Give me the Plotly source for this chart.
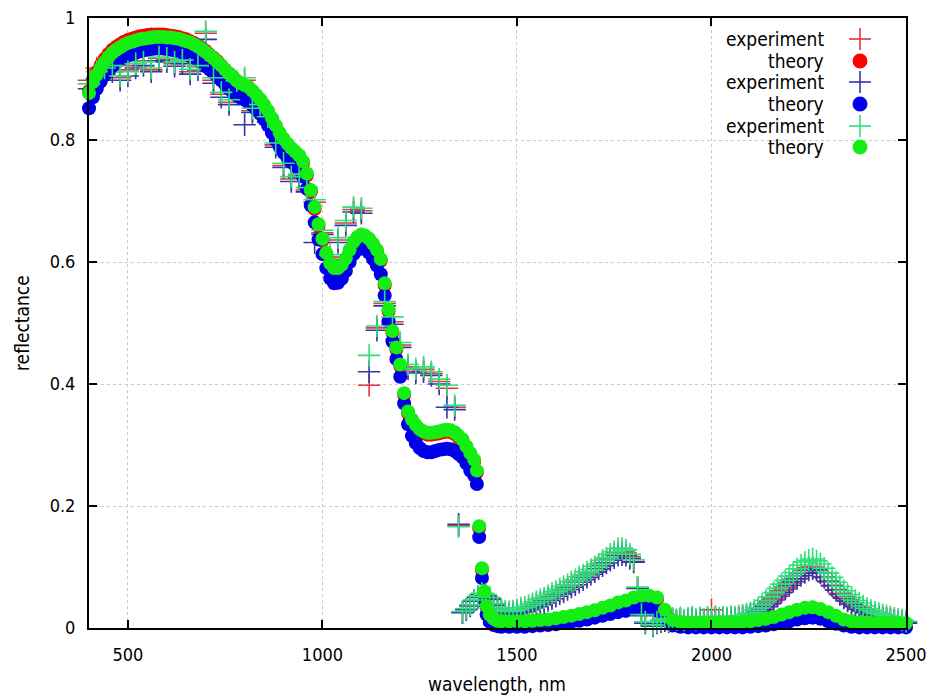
import plotly.graph_objects as go

# ---------------- data ----------------
# theory wavelength grid (nm)
theory_wl = (list(range(400, 1390, 10))
             + [1390, 1397, 1403, 1410, 1416, 1422, 1430, 1440, 1450]
             + list(range(1460, 2501, 20)))

theory_red = [
    0.880, 0.899, 0.912, 0.923, 0.933, 0.941, 0.948, 0.953, 0.957, 0.961,   # 400-490
    0.964, 0.966, 0.968, 0.970, 0.971, 0.972, 0.973, 0.973, 0.973, 0.973,   # 500-590
    0.972, 0.971, 0.970, 0.969, 0.967, 0.965, 0.962, 0.959, 0.955, 0.951,   # 600-690
    0.946, 0.940, 0.935, 0.929, 0.922, 0.915, 0.909, 0.903, 0.897, 0.892,   # 700-790
    0.889, 0.886, 0.880, 0.873, 0.865, 0.856, 0.846, 0.834, 0.822, 0.810,   # 800-890
    0.800, 0.792, 0.785, 0.779, 0.772, 0.762, 0.742, 0.715, 0.687, 0.659,   # 900-990
    0.635, 0.612, 0.595, 0.587, 0.587, 0.593, 0.603, 0.617, 0.630, 0.638,   # 1000-1090
    0.642, 0.640, 0.635, 0.627, 0.617, 0.602, 0.562, 0.519, 0.484, 0.457,   # 1100-1190
    0.429, 0.382, 0.352, 0.339, 0.330, 0.323, 0.319, 0.317, 0.317, 0.318,   # 1200-1290
    0.319, 0.321, 0.322, 0.321, 0.318, 0.312, 0.306, 0.295, 0.284,          # 1300-1380
    0.273, 0.255, 0.164, 0.095, 0.057, 0.033, 0.019, 0.012, 0.009,          # 1390-1450
    0.008, 0.008, 0.008, 0.008, 0.009, 0.010, 0.011, 0.013, 0.015, 0.017,   # 1460-1640
    0.020, 0.023, 0.026, 0.030, 0.034, 0.039, 0.042, 0.047, 0.050, 0.050,   # 1660-1840
    0.047, 0.027, 0.010, 0.007, 0.006, 0.006, 0.006, 0.006, 0.006, 0.006,   # 1860-2040
    0.006, 0.007, 0.008, 0.010, 0.012, 0.015, 0.019, 0.023, 0.027, 0.030,   # 2060-2240
    0.031, 0.028, 0.023, 0.017, 0.011, 0.008, 0.006, 0.006, 0.005, 0.005,   # 2260-2440
    0.005, 0.005, 0.005,                                                    # 2460-2500
]

theory_blue = [
    0.852, 0.870, 0.884, 0.896, 0.906, 0.914, 0.921, 0.927, 0.931, 0.935,
    0.938, 0.941, 0.943, 0.945, 0.947, 0.948, 0.949, 0.950, 0.950, 0.950,
    0.949, 0.948, 0.947, 0.945, 0.943, 0.941, 0.938, 0.935, 0.931, 0.926,
    0.921, 0.916, 0.910, 0.904, 0.898, 0.891, 0.884, 0.878, 0.873, 0.869,
    0.866, 0.862, 0.857, 0.850, 0.843, 0.834, 0.824, 0.812, 0.800, 0.789,
    0.779, 0.771, 0.764, 0.758, 0.751, 0.740, 0.720, 0.693, 0.665, 0.637,
    0.613, 0.590, 0.573, 0.565, 0.566, 0.573, 0.585, 0.600, 0.613, 0.620,
    0.623, 0.621, 0.615, 0.605, 0.594, 0.580, 0.545, 0.503, 0.470, 0.441,
    0.412, 0.368, 0.334, 0.315, 0.303, 0.295, 0.290, 0.288, 0.288, 0.290,
    0.292, 0.293, 0.294, 0.293, 0.290, 0.285, 0.280, 0.270, 0.258,
    0.250, 0.236, 0.149, 0.082, 0.045, 0.022, 0.010, 0.005, 0.003,
    0.002, 0.002, 0.002, 0.002, 0.003, 0.004, 0.005, 0.006, 0.008, 0.010,
    0.012, 0.014, 0.017, 0.020, 0.023, 0.026, 0.028, 0.031, 0.033, 0.032,
    0.028, 0.015, 0.004, 0.002, 0.001, 0.001, 0.001, 0.001, 0.001, 0.001,
    0.001, 0.001, 0.002, 0.003, 0.004, 0.006, 0.008, 0.011, 0.014, 0.016,
    0.017, 0.015, 0.011, 0.007, 0.004, 0.002, 0.001, 0.001, 0.001, 0.001,
    0.001, 0.001, 0.001,
]

theory_green = [
    0.877, 0.895, 0.907, 0.918, 0.928, 0.936, 0.943, 0.948, 0.952, 0.956,
    0.959, 0.961, 0.963, 0.965, 0.966, 0.967, 0.968, 0.969, 0.969, 0.969,
    0.968, 0.968, 0.967, 0.966, 0.964, 0.962, 0.960, 0.957, 0.953, 0.949,
    0.944, 0.939, 0.934, 0.928, 0.922, 0.915, 0.909, 0.903, 0.897, 0.893,
    0.890, 0.887, 0.881, 0.874, 0.867, 0.858, 0.848, 0.836, 0.824, 0.812,
    0.802, 0.794, 0.787, 0.781, 0.775, 0.765, 0.745, 0.718, 0.690, 0.662,
    0.638, 0.615, 0.598, 0.590, 0.590, 0.596, 0.606, 0.620, 0.633, 0.641,
    0.645, 0.643, 0.638, 0.630, 0.620, 0.605, 0.565, 0.522, 0.487, 0.460,
    0.432, 0.385, 0.355, 0.342, 0.333, 0.326, 0.322, 0.320, 0.320, 0.321,
    0.322, 0.324, 0.325, 0.324, 0.321, 0.315, 0.309, 0.298, 0.287,
    0.276, 0.258, 0.167, 0.098, 0.060, 0.036, 0.022, 0.015, 0.012,
    0.011, 0.011, 0.011, 0.011, 0.012, 0.013, 0.014, 0.016, 0.018, 0.020,
    0.023, 0.026, 0.029, 0.033, 0.037, 0.042, 0.045, 0.050, 0.053, 0.053,
    0.050, 0.030, 0.013, 0.010, 0.009, 0.009, 0.009, 0.009, 0.009, 0.009,
    0.009, 0.010, 0.011, 0.013, 0.015, 0.018, 0.022, 0.026, 0.030, 0.033,
    0.034, 0.031, 0.026, 0.020, 0.014, 0.011, 0.009, 0.009, 0.008, 0.008,
    0.008, 0.008, 0.008,
]

# experiment wavelength grid (nm)
exp_wl = list(range(400, 1341, 20)) + list(range(1350, 2501, 10))

exp_red = [
    0.898, 0.918, 0.915, 0.925, 0.902, 0.915, 0.922, 0.930, 0.915, 0.934,   # 400-580
    0.932, 0.925, 0.928, 0.912, 0.920, 0.975, 0.898, 0.875, 0.862, 0.892,   # 600-780
    0.898, 0.848, 0.855, 0.835, 0.792, 0.758, 0.736, 0.741, 0.718, 0.698,   # 800-980
    0.648, 0.608, 0.636, 0.664, 0.686, 0.684, 0.398, 0.492, 0.532, 0.502,   # 1000-1180
    0.464, 0.428, 0.421, 0.424, 0.417, 0.404, 0.393, 0.362,                 # 1200-1340
    0.168, 0.026, 0.031, 0.037, 0.045, 0.051, 0.056, 0.053, 0.048, 0.038,   # 1350-1440
    0.032, 0.028, 0.025, 0.024, 0.025, 0.027, 0.029, 0.030, 0.033, 0.036,   # 1450-1540
    0.039, 0.042, 0.045, 0.049, 0.052, 0.056, 0.060, 0.063, 0.067, 0.071,   # 1550-1640
    0.075, 0.079, 0.083, 0.087, 0.092, 0.096, 0.101, 0.106, 0.111, 0.115,   # 1650-1740
    0.120, 0.124, 0.125, 0.123, 0.117, 0.109, 0.066, 0.021, 0.009, -0.007,  # 1750-1840
    0.004, 0.009, 0.011, 0.013, 0.011, 0.014, 0.012, 0.015, 0.011, 0.014,   # 1850-1940
    0.016, 0.012, 0.015, 0.013, 0.016, 0.030, 0.017, 0.014, 0.016, 0.015,   # 1950-2040
    0.017, 0.016, 0.018, 0.019, 0.020, 0.022, 0.025, 0.029, 0.033, 0.038,   # 2050-2140
    0.043, 0.049, 0.055, 0.061, 0.067, 0.074, 0.080, 0.085, 0.090, 0.095,   # 2150-2240
    0.099, 0.100, 0.097, 0.091, 0.084, 0.077, 0.070, 0.063, 0.057, 0.051,   # 2250-2340
    0.046, 0.041, 0.037, 0.033, 0.030, 0.027, 0.024, 0.022, 0.020, 0.018,   # 2350-2440
    0.016, 0.015, 0.013, 0.012, 0.011, 0.009,                               # 2450-2500
]

exp_blue = [
    0.884, 0.900, 0.908, 0.912, 0.898, 0.905, 0.918, 0.922, 0.912, 0.930,
    0.928, 0.921, 0.925, 0.908, 0.915, 0.965, 0.893, 0.870, 0.858, 0.888,
    0.825, 0.845, 0.850, 0.830, 0.788, 0.755, 0.732, 0.738, 0.715, 0.632,
    0.645, 0.604, 0.632, 0.660, 0.682, 0.680, 0.420, 0.488, 0.528, 0.498,
    0.460, 0.425, 0.418, 0.420, 0.414, 0.400, 0.362, 0.358,
    0.170, 0.025, 0.030, 0.036, 0.044, 0.050, 0.055, 0.052, 0.047, 0.037,
    0.030, 0.026, 0.023, 0.022, 0.022, 0.024, 0.026, 0.027, 0.030, 0.033,
    0.035, 0.038, 0.041, 0.045, 0.048, 0.052, 0.056, 0.059, 0.063, 0.067,
    0.071, 0.075, 0.079, 0.083, 0.088, 0.092, 0.097, 0.102, 0.107, 0.111,
    0.115, 0.119, 0.120, 0.119, 0.114, 0.108, 0.065, 0.020, 0.008, -0.008,
    0.003, 0.008, 0.010, 0.012, 0.010, 0.013, 0.011, 0.014, 0.010, 0.013,
    0.015, 0.011, 0.014, 0.012, 0.015, 0.013, 0.016, 0.013, 0.015, 0.014,
    0.016, 0.015, 0.016, 0.017, 0.018, 0.020, 0.023, 0.026, 0.030, 0.035,
    0.040, 0.046, 0.052, 0.058, 0.064, 0.070, 0.076, 0.081, 0.086, 0.091,
    0.095, 0.097, 0.095, 0.090, 0.083, 0.076, 0.069, 0.062, 0.055, 0.049,
    0.044, 0.039, 0.035, 0.031, 0.028, 0.025, 0.022, 0.020, 0.018, 0.016,
    0.015, 0.013, 0.012, 0.011, 0.010, 0.008,
]

exp_green = [
    0.892, 0.912, 0.918, 0.922, 0.905, 0.912, 0.925, 0.928, 0.918, 0.936,
    0.934, 0.928, 0.931, 0.916, 0.922, 0.978, 0.902, 0.878, 0.866, 0.897,
    0.902, 0.852, 0.858, 0.838, 0.795, 0.762, 0.740, 0.744, 0.722, 0.702,
    0.652, 0.612, 0.640, 0.668, 0.690, 0.688, 0.447, 0.495, 0.535, 0.510,
    0.468, 0.432, 0.425, 0.428, 0.420, 0.408, 0.398, 0.365,
    0.166, 0.027, 0.032, 0.038, 0.046, 0.052, 0.057, 0.055, 0.050, 0.040,
    0.034, 0.031, 0.028, 0.027, 0.028, 0.030, 0.033, 0.034, 0.037, 0.040,
    0.043, 0.047, 0.049, 0.053, 0.057, 0.060, 0.064, 0.068, 0.071, 0.076,
    0.079, 0.084, 0.087, 0.092, 0.096, 0.101, 0.105, 0.111, 0.115, 0.121,
    0.125, 0.130, 0.131, 0.128, 0.121, 0.112, 0.067, 0.022, 0.010, -0.006,
    0.005, 0.010, 0.013, 0.015, 0.012, 0.016, 0.014, 0.017, 0.013, 0.016,
    0.018, 0.014, 0.017, 0.015, 0.018, 0.016, 0.019, 0.016, 0.018, 0.017,
    0.019, 0.018, 0.020, 0.021, 0.023, 0.025, 0.029, 0.033, 0.039, 0.045,
    0.051, 0.058, 0.065, 0.072, 0.078, 0.085, 0.091, 0.097, 0.103, 0.108,
    0.111, 0.113, 0.110, 0.105, 0.098, 0.090, 0.083, 0.075, 0.068, 0.061,
    0.055, 0.050, 0.045, 0.041, 0.036, 0.032, 0.029, 0.026, 0.024, 0.022,
    0.020, 0.018, 0.016, 0.015, 0.013, 0.011,
]

for arr in (theory_red, theory_blue, theory_green):
    assert len(arr) == len(theory_wl), (len(arr), len(theory_wl))
for arr in (exp_red, exp_blue, exp_green):
    assert len(arr) == len(exp_wl), (len(arr), len(exp_wl))

series_names = ["experiment", "theory", "experiment", "theory", "experiment", "theory"]
exp_colors = ["rgb(232,52,60)", "rgb(52,52,172)", "rgb(44,226,120)"]
theory_colors = ["rgb(255,0,0)", "rgb(0,0,232)", "rgb(20,238,20)"]
x_ticks = [500, 1000, 1500, 2000, 2500]
y_ticks = [0, 0.2, 0.4, 0.6, 0.8, 1]

# ---------------- figure ----------------
FONT = "DejaVu Sans Condensed, DejaVu Sans, sans-serif"
W, H = 933, 696
ML, MR, MT, MB = 89, 27, 18, 68
PW, PH = W - ML - MR, H - MT - MB

fig = go.Figure()

pairs = [(exp_red, theory_red), (exp_blue, theory_blue), (exp_green, theory_green)]
for i, (ev, tv) in enumerate(pairs):
    fig.add_trace(go.Scatter(
        x=exp_wl, y=ev, mode="markers", name="experiment", cliponaxis=False,
        marker=dict(symbol="cross-thin", size=16, color=exp_colors[i],
                    line=dict(color=exp_colors[i], width=1.6)),
    ))
    fig.add_trace(go.Scatter(
        x=theory_wl, y=tv, mode="markers", name="theory", cliponaxis=False,
        marker=dict(symbol="circle", size=14, color=theory_colors[i],
                    line=dict(width=0)),
    ))

axis_common = dict(
    showline=True, linecolor="black", linewidth=2, mirror="ticks",
    ticks="inside", ticklen=8, tickwidth=1.5, tickcolor="black",
    showgrid=True, gridcolor="#c8c8c8", gridwidth=1, griddash="dot",
    zeroline=False, automargin=False,
    tickfont=dict(family=FONT, size=18, color="black"),
)
fig.update_xaxes(range=[400, 2500], tickvals=x_ticks, ticklabelstandoff=9, **axis_common)
fig.update_yaxes(range=[0, 1], tickvals=y_ticks, ticklabelstandoff=8, **axis_common)


def px_to_paper_x(px):
    return (px - ML) / PW


def px_to_paper_y(py):
    return 1 - (py - MT) / PH


annotations = [
    dict(text="wavelength, nm", x=px_to_paper_x(497), y=px_to_paper_y(684),
         xref="paper", yref="paper", showarrow=False, xanchor="center", yanchor="middle",
         font=dict(family=FONT, size=19, color="black")),
    dict(text="reflectance", x=px_to_paper_x(22), y=px_to_paper_y(323),
         xref="paper", yref="paper", showarrow=False, xanchor="center", yanchor="middle",
         textangle=-90, font=dict(family=FONT, size=19, color="black")),
]

# custom key (text left of symbol, as in the original)
KEY_TEXT_RIGHT = 826
KEY_SYM_X = 860
KEY_ROWS = [39, 61, 82, 104, 126, 147]
shapes = []
for k, name in enumerate(series_names):
    row_y = KEY_ROWS[k]
    annotations.append(dict(
        text=name, x=px_to_paper_x(KEY_TEXT_RIGHT), y=px_to_paper_y(row_y),
        xref="paper", yref="paper", showarrow=False, xanchor="right", yanchor="middle",
        font=dict(family=FONT, size=19, color="black")))
    c = k // 2
    sx, sy = px_to_paper_x(KEY_SYM_X), px_to_paper_y(row_y)
    if k % 2 == 0:
        col = exp_colors[c]
        shapes.append(dict(type="line", xref="paper", yref="paper", xsizemode="pixel",
                           ysizemode="pixel", xanchor=sx, yanchor=sy,
                           x0=-11, x1=11, y0=0, y1=0, line=dict(color=col, width=1.6)))
        shapes.append(dict(type="line", xref="paper", yref="paper", xsizemode="pixel",
                           ysizemode="pixel", xanchor=sx, yanchor=sy,
                           x0=0, x1=0, y0=-11, y1=11, line=dict(color=col, width=1.6)))
    else:
        col = theory_colors[c]
        shapes.append(dict(type="circle", xref="paper", yref="paper", xsizemode="pixel",
                           ysizemode="pixel", xanchor=sx, yanchor=sy,
                           x0=-7.5, x1=7.5, y0=-7.5, y1=7.5, fillcolor=col,
                           line=dict(width=0)))

fig.update_layout(
    width=W, height=H, margin=dict(l=ML, r=MR, t=MT, b=MB),
    plot_bgcolor="white", paper_bgcolor="white", showlegend=False,
    font=dict(family=FONT, size=18, color="black"),
    annotations=annotations, shapes=shapes,
)

fig.write_html("out.html")
